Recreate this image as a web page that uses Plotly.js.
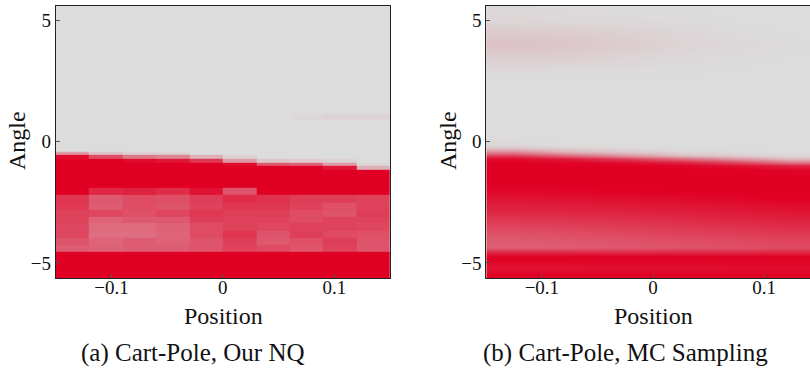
<!DOCTYPE html>
<html><head><meta charset="utf-8">
<script src="https://cdn.plot.ly/plotly-3.0.1.min.js"></script>
<style>html,body{margin:0;padding:0;overflow:hidden;background:#fff;width:810px;height:368px}#chart{width:830px;height:368px}</style>
</head><body><div id="chart"></div>
<script>
// ---------- Panel (a): Cart-Pole, Our NQ (blocky) ----------
const positionEdgesNQ = [-0.15,-0.12,-0.09,-0.06,-0.03,0,0.03,0.06,0.09,0.12,0.15];
const angleEdgesNQ = [-5.65,-4.55,-4.26,-3.97,-3.66,-3.35,-3.08,-2.81,-2.5,-2.2,-1.9,-1.15,-1.0,-0.85,-0.7,-0.55,-0.4,0.9,1.15,5.65];
const valuesNQ = [
  [1,1,1,1,1,1,1,1,1,1],
  [0.58,0.56,0.58,0.58,0.62,0.7,0.66,0.62,0.7,0.62],
  [0.62,0.54,0.58,0.56,0.62,0.72,0.6,0.64,0.72,0.62],
  [0.68,0.5,0.5,0.54,0.66,0.76,0.62,0.72,0.66,0.64],
  [0.68,0.52,0.52,0.56,0.66,0.7,0.68,0.7,0.7,0.68],
  [0.7,0.55,0.6,0.6,0.72,0.7,0.7,0.65,0.7,0.7],
  [0.7,0.68,0.63,0.68,0.74,0.72,0.72,0.65,0.62,0.72],
  [0.74,0.58,0.65,0.62,0.7,0.76,0.75,0.7,0.64,0.7],
  [0.76,0.6,0.66,0.64,0.72,0.8,0.78,0.72,0.72,0.7],
  [1,0.82,0.85,0.8,0.92,0.62,1,1,1,1],
  [1,1,1,1,1,1,1,1,1,1],
  [1,1,1,1,1,1,1,1,0.9,0.2],
  [1,1,1,1,1,0.95,0.6,0.55,0.3,0.03],
  [1,1,0.95,0.9,0.75,0.3,0.1,0.08,0.05,0],
  [0.95,0.65,0.45,0.4,0.2,0.05,0,0,0,0],
  [0.3,0.1,0.05,0.05,0,0,0,0,0,0],
  [0,0,0,0,0,0,0,0,0,0],
  [0,0,0,0,0,0,0,0.02,0.05,0.05],
  [0,0,0,0,0,0,0,0,0,0]
];

// ---------- Panel (b): Cart-Pole, MC Sampling (smooth) ----------
const positionMC = [-0.125,-0.075,-0.025,0.025,0.075,0.125];
const angleMC = [-5.5,-5.2,-4.95,-4.75,-4.55,-4.35,-4.1,-3.8,-3.5,-3.2,-2.9,-2.6,-2.3,-2.0,-1.7,-1.4,-1.15,-1.0,-0.85,-0.7,-0.55,-0.4,-0.25,-0.1,0.3,1.5,2.5,3.0,3.5,4.0,4.5,5.0,5.5];
const valuesMC = [
  [1,1,1,1,1,1],
  [0.92,0.92,0.93,0.93,0.94,0.94],
  [0.98,0.98,0.98,0.98,0.98,0.98],
  [1,1,1,1,1,1],
  [0.84,0.84,0.83,0.83,0.83,0.84],
  [0.57,0.58,0.6,0.62,0.64,0.66],
  [0.58,0.6,0.62,0.64,0.66,0.69],
  [0.63,0.65,0.67,0.7,0.72,0.74],
  [0.69,0.71,0.73,0.75,0.77,0.8],
  [0.75,0.76,0.78,0.8,0.83,0.85],
  [0.82,0.83,0.84,0.86,0.88,0.9],
  [0.87,0.88,0.89,0.91,0.93,0.95],
  [0.92,0.93,0.95,0.96,0.98,1],
  [0.97,0.98,0.99,1,1,1],
  [1,1,1,1,1,1],
  [1,1,1,1,1,1],
  [1,1,1,1,1,0.97],
  [1,1,1,0.98,0.93,0.84],
  [1,0.98,0.94,0.85,0.68,0.47],
  [0.95,0.86,0.7,0.5,0.31,0.14],
  [0.72,0.52,0.33,0.15,0.08,0.03],
  [0.36,0.17,0.09,0.03,0.01,0],
  [0.1,0.04,0.02,0,0,0],
  [0.02,0,0,0,0,0],
  [0,0,0,0,0,0],
  [0,0,0,0,0,0],
  [0,0,0,0,0,0],
  [0.02,0.015,0.01,0.005,0,0],
  [0.07,0.06,0.04,0.02,0.01,0],
  [0.12,0.1,0.07,0.04,0.02,0.005],
  [0.08,0.07,0.05,0.03,0.01,0],
  [0.03,0.02,0.015,0.01,0,0],
  [0.02,0.01,0.005,0,0,0]
];

const xTickVals = [-0.1, 0, 0.1];
const yTickVals = [-5, 0, 5];
const xTitle = 'Position';
const yTitle = 'Angle';
const captions = ['(a) Cart-Pole, Our NQ', '(b) Cart-Pole, MC Sampling'];

const W = 830, H = 368;
const colorscale = [[0, '#dcdcdc'], [1, '#e00024']];
const serif = 'Liberation Serif, Times New Roman, serif';

const traces = [
  {type: 'heatmap', x: positionEdgesNQ, y: angleEdgesNQ, z: valuesNQ,
   zmin: 0, zmax: 1, colorscale: colorscale, showscale: false, zsmooth: false,
   hoverinfo: 'skip', xaxis: 'x', yaxis: 'y'},
  {type: 'heatmap', x: positionMC, y: angleMC, z: valuesMC,
   zmin: 0, zmax: 1, colorscale: colorscale, showscale: false, zsmooth: 'best',
   hoverinfo: 'skip', xaxis: 'x2', yaxis: 'y2'}
];

function xAx(d) {
  return {domain: d, range: [-0.15, 0.15], tickvals: xTickVals, ticks: 'inside', ticklen: 4,
    tickcolor: '#555', tickwidth: 1, showline: true, mirror: true, linecolor: '#222', linewidth: 1,
    showgrid: false, zeroline: false, ticklabelstandoff: -8,
    tickfont: {family: serif, size: 19, color: '#111'}};
}
function yAx(d) {
  return {domain: d, range: [-5.62, 5.62], tickvals: yTickVals, ticks: 'inside', ticklen: 4,
    tickcolor: '#555', tickwidth: 1, showline: true, mirror: true, linecolor: '#222', linewidth: 1,
    showgrid: false, zeroline: false, tickfont: {family: serif, size: 19, color: '#111'}};
}
const yDom = [(H - 278) / H, (H - 5.5) / H];
const ann = (text, x, y, size, angle) => ({text: text, x: x / W, y: (H - y) / H, xref: 'paper', yref: 'paper',
  showarrow: false, xanchor: 'center', yanchor: 'middle', textangle: angle || 0,
  font: {family: serif, size: size, color: '#111'}});

const layout = {
  width: W, height: H, margin: {l: 0, r: 0, t: 0, b: 0},
  paper_bgcolor: '#ffffff', plot_bgcolor: '#dcdcdc', showlegend: false,
  xaxis: Object.assign(xAx([55.7 / W, 390 / W]), {anchor: 'y'}),
  yaxis: Object.assign(yAx(yDom), {anchor: 'x'}),
  xaxis2: Object.assign(xAx([486.3 / W, 819.8 / W]), {anchor: 'y2'}),
  yaxis2: Object.assign(yAx(yDom), {anchor: 'x2'}),
  annotations: [
    ann(xTitle, 223, 316, 24), ann(xTitle, 653.3, 316, 24),
    ann(yTitle, 17, 141, 24, -90), ann(yTitle, 448, 141, 24, -90),
    ann(captions[0], 193, 353, 25), ann(captions[1], 625, 353, 25)
  ]
};
Plotly.newPlot('chart', traces, layout, {staticPlot: true, displayModeBar: false});
</script>
</body></html>
